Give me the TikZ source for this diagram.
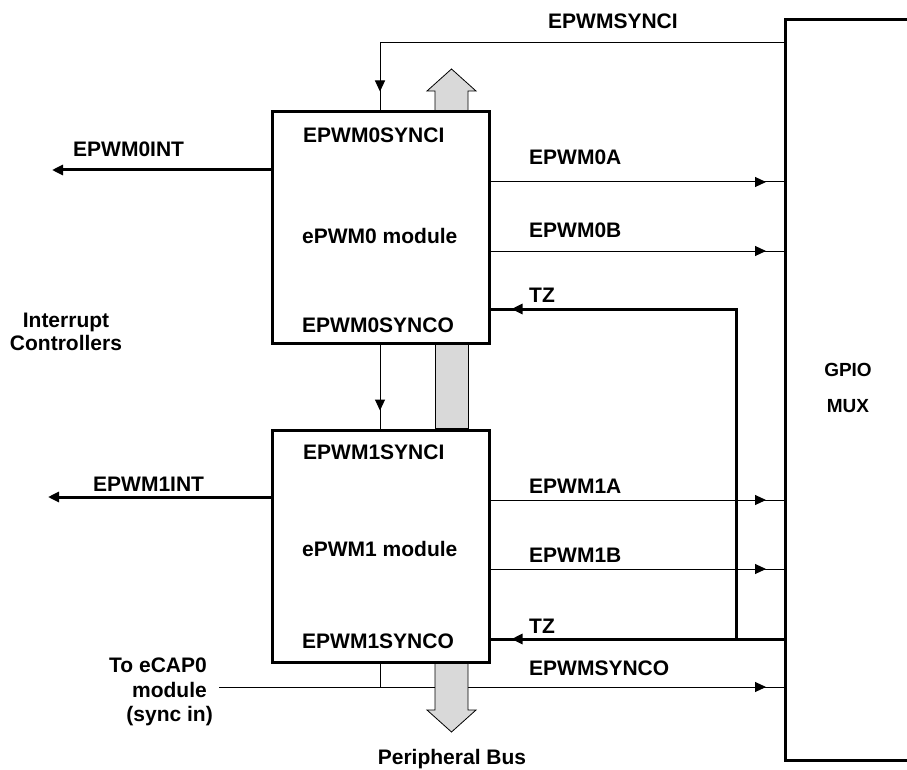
\documentclass[tikz,border=0pt]{standalone}
\usepackage{fontspec}
\setmainfont{Liberation Sans}
\usetikzlibrary{arrows.meta,decorations.markings,calc}
\begin{document}
\begin{tikzpicture}[x=1pt,y=-1pt,
  lbl/.style={font=\fontsize{21}{24}\selectfont\bfseries, inner sep=0pt, anchor=base west},
  thinln/.style={line width=1pt},
  thickln/.style={line width=3pt},
  mytip/.tip={Triangle[length=11pt,width=10pt]},
  midtip/.style={postaction={decorate}, decoration={markings, mark=at position #1 with {\arrow{mytip}}}},
  modbox/.style={draw, line width=3pt, fill=white, minimum width=217pt, inner sep=0pt},
  busfill/.style={fill=black!15, draw=black, line width=0.8pt}
]
\useasboundingbox (0,0) rectangle (907,770);
\clip (0,0) rectangle (907,770);

% GPIO MUX block
\node[minimum width=160pt, minimum height=740pt, anchor=north west, inner sep=0pt] (gpio) at (785,20) {};
\draw[thickln] (gpio.north east) -- (gpio.north west) -- (gpio.south west) -- (gpio.south east);
\node[font=\fontsize{19}{36}\selectfont\bfseries, align=center, inner sep=0pt, anchor=north] (gpiotxt) at (848,363) {GPIO\\MUX};

% module boxes (for anchors)
\node[modbox, minimum height=231pt] (box0) at (380.5,227.5) {};
\node[modbox, minimum height=232pt] (box1) at (380.5,546) {};

% coordinates
\coordinate (gS) at (785,43);
\coordinate (s0) at (380,43);
\coordinate (gA0) at (785,182);
\coordinate (gB0) at (785,251);
\coordinate (gA1) at (785,500);
\coordinate (gB1) at (785,569);
\coordinate (so) at (219,687);
\coordinate (gSO) at (785,687);
\coordinate (sj) at (380,687);
\coordinate (tzj) at (736,639);
\coordinate (tzc) at (736,309);
\coordinate (i0) at (52,170);
\coordinate (i1) at (48,497);

% connectors
\draw[thinln, midtip=-19pt] (gS) -- (s0) -- (s0 |- box0.north);
\draw[thinln, midtip=-19pt] (box0.east |- gA0) -- (gA0);
\draw[thinln, midtip=-19pt] (box0.east |- gB0) -- (gB0);
\draw[thinln, midtip=-19pt] (box1.east |- gA1) -- (gA1);
\draw[thinln, midtip=-19pt] (box1.east |- gB1) -- (gB1);
\draw[thinln, midtip=-18pt] (box0.south -| s0) -- (box1.north -| s0);
\draw[thinln, midtip=-19pt] (so) -- (gSO);
\draw[thinln] (box1.south -| sj) -- (sj);
\draw[thickln, midtip=-21pt] (tzj) -- (tzc) -- (box0.east |- tzc);
\draw[thickln, midtip=-21pt] (gpio.west |- tzj) -- (box1.east |- tzj);
\draw[thickln, -{mytip}] (box0.west |- i0) -- (i0);
\draw[thickln, -{mytip}] (box1.west |- i1) -- (i1);

% redraw boxes on top
\node[modbox, minimum height=231pt] at (box0.center) {};
\node[modbox, minimum height=232pt] at (box1.center) {};

% peripheral bus
\draw[busfill] (435,110.5) -- (435,91) -- (427,91) -- (451.5,69) -- (476,91) -- (468,91) -- (468,110.5) -- cycle;
\draw[busfill] (435,344.5) rectangle (468,428.5);
\draw[busfill] (435,663.5) -- (435,710) -- (427,710) -- (451.5,732) -- (476,710) -- (468,710) -- (468,663.5) -- cycle;

% texts in boxes
\node[lbl] (t0i) at (303,143) {EPWM0SYNCI};
\node[lbl] (t0m) at (302,243) {ePWM0 module};
\node[lbl] (t0o) at (302,332) {EPWM0SYNCO};
\node[lbl] (t1i) at (303,459) {EPWM1SYNCI};
\node[lbl] (t1m) at (302,556) {ePWM1 module};
\node[lbl] (t1o) at (302,648) {EPWM1SYNCO};

% signal labels
\node[lbl] (lsi) at (548,29) {EPWMSYNCI};
\node[lbl] (l0a) at (529,165) {EPWM0A};
\node[lbl] (l0b) at (529,237) {EPWM0B};
\node[lbl] (ltz0) at (529,302) {TZ};
\node[lbl] (l1a) at (529,493) {EPWM1A};
\node[lbl] (l1b) at (529,562) {EPWM1B};
\node[lbl] (ltz1) at (529,633) {TZ};
\node[lbl] (lso) at (529,675) {EPWMSYNCO};
\node[lbl] (l0int) at (73,157) {EPWM0INT};
\node[lbl] (l1int) at (93,491) {EPWM1INT};
\node[font=\fontsize{21}{23}\selectfont\bfseries, align=center, inner sep=0pt, anchor=north] (lic) at (66,313) {Interrupt\\Controllers};
\node[font=\fontsize{21}{24.5}\selectfont\bfseries, align=right, inner sep=0pt, anchor=north east] (lecap) at (207,658) {To eCAP0\\module\\(sync in)\hspace*{-6pt}};
\node[lbl, anchor=base] (lpb) at (452,764) {Peripheral Bus};
\end{tikzpicture}
\end{document}
